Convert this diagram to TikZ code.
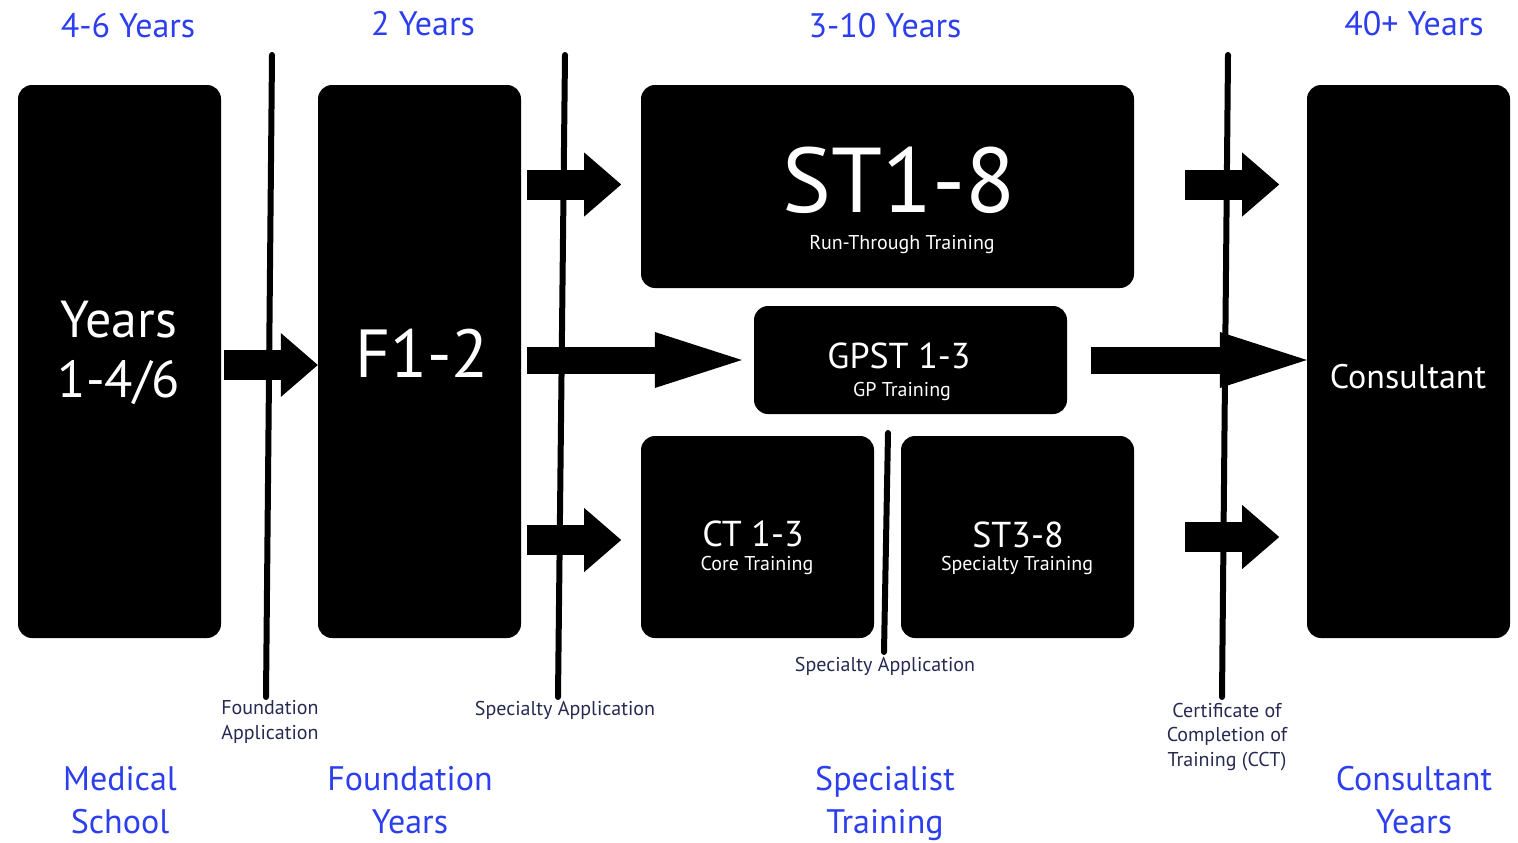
\documentclass[tikz,border=0pt]{standalone}
\usepackage{fontspec}
\setmainfont{PT Sans}
\usetikzlibrary{positioning, arrows.meta}
\definecolor{yearblue}{RGB}{44,62,238}
\definecolor{notenavy}{RGB}{38,42,82}

\begin{document}
\begin{tikzpicture}[x=1pt,y=-1pt,on grid,
    box/.style={fill=black,rounded corners=14pt,inner sep=0pt},
    tall/.style={box,minimum width=203pt,minimum height=553pt},
    word/.style={text=white,inner sep=0pt,anchor=base,align=center},
    years/.style={text=yearblue,inner sep=0pt,anchor=base,align=center,font=\fontsize{34}{43}\selectfont},
    note/.style={text=notenavy,inner sep=0pt,anchor=base,align=center,font=\fontsize{20}{24.5}\selectfont},
    gate/.style={line width=6pt,line cap=round},
    blk/.style={line width=30pt,-{Triangle[length=37pt,width=64pt,line width=0pt]}},
    blklong/.style={line width=27pt,-{Triangle[length=87pt,width=56pt,line width=0pt]}}]
  \useasboundingbox (0,0) rectangle (1518,843);

  % stages
  \node[tall] (med) at (119.5,361.5) {};
  \node[tall] (fy) [right=300pt of med] {};
  \node[tall] (con) at (1408.5,361.5) {};
  \node[box,minimum width=493pt,minimum height=203pt] (st) at (887.5,186.5) {};
  \node[box,minimum width=313pt,minimum height=108pt] (gp) at (910.5,360) {};
  \node[box,minimum width=233pt,minimum height=202pt] (ct) at (757.5,537) {};
  \node[box,minimum width=233pt,minimum height=202pt] (sp) [right=260pt of ct] {};

  % texts in the boxes (base = last line)
  \node[word,font=\fontsize{52}{60}\selectfont] (medtxt) at (119,397) {Years\\1-4/6};
  \node[word,font=\fontsize{68}{68}\selectfont] (fytxt) at (422,377) {F1-2};
  \node[word,font=\fontsize{34}{34}\selectfont] (contxt) at (1408,388) {Consultant};
  \node[word,font=\fontsize{92}{92}\selectfont] (sttxt) at (899,212) {ST1-8};
  \node[word,font=\fontsize{20}{20}\selectfont] (stsub) at (902,249) {Run-Through Training};
  \node[word,font=\fontsize{36}{36}\selectfont] (gptxt) at (899,368) {GPST 1-3};
  \node[word,font=\fontsize{20}{20}\selectfont] (gpsub) at (902,396) {GP Training};
  \node[word,font=\fontsize{36}{36}\selectfont] (cttxt) at (753,546) {CT 1-3};
  \node[word,font=\fontsize{20}{20}\selectfont] (ctsub) at (757,570) {Core Training};
  \node[word,font=\fontsize{36}{36}\selectfont] (sptxt) at (1018,547) {ST3-8};
  \node[word,font=\fontsize{20}{20}\selectfont] (spsub) at (1017,570) {Specialty Training};

  % block arrows
  \draw[blk] ([xshift=3pt,yshift=-3.5pt]med.east) -- ([yshift=-3.5pt]fy.west);
  \draw[blk] (fy.east |- st.west) ++(6,-2) -- ++(94,0);
  \draw[blklong] (fy.east |- gp.west) ++(6,0) -- ([xshift=-12pt]gp.west);
  \draw[blk] (fy.east |- ct.west) ++(6,3) -- ++(94,0);
  \draw[blk] (st.east) ++(51,-2) -- ++(94,0);
  \draw[blklong] (gp.east) ++(24,0) -- (con.west |- gp.east);
  \draw[blk] (sp.east) ++(51,0) -- ++(94,0);

  % application lines
  \draw[gate] (272,55) -- (266,697);
  \draw[gate] (565,55) -- (558,697);
  \draw[gate] (888,433) -- (884,652);
  \draw[gate] (1228,55) -- (1222,697);

  \node[note] (fapp) at (270,739) {Foundation\\Application};
  \node[note] (sapp) at (565,715) {Specialty Application};
  \node[note] (sapp2) at (885,671) {Specialty Application};
  \node[note] (cct) at (1227,766) {Certificate of\\Completion of\\Training (CCT)};

  % durations
  \node[years] (y1) at (128,38) {4-6 Years};
  \node[years] (y2) at (423,36) {2 Years};
  \node[years] (y3) at (885,38) {3-10 Years};
  \node[years] (y4) at (1414,36) {40+ Years};

  % phases
  \node[years] (p1) at (120,833) {Medical\\School};
  \node[years] (p2) at (410,833) {Foundation\\Years};
  \node[years] (p3) at (885,833) {Specialist\\Training};
  \node[years] (p4) at (1414,833) {Consultant\\Years};
\end{tikzpicture}
\end{document}
